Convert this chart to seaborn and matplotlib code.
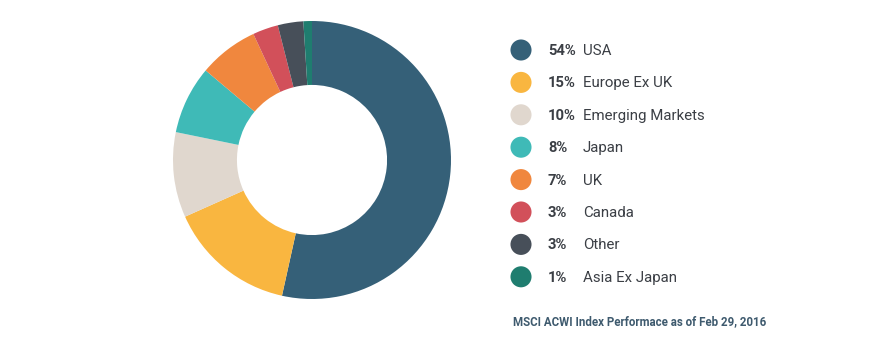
import matplotlib
matplotlib.use("Agg")
import matplotlib.pyplot as plt
import seaborn as sns

sns.set_style("white")
plt.rcParams["font.family"] = ["Roboto", "DejaVu Sans"]

regions = ["USA", "Europe Ex UK", "Emerging Markets", "Japan", "UK", "Canada", "Other", "Asia Ex Japan"]
shares = [54, 15, 10, 8, 7, 3, 3, 1]
colors = ["#356078", "#f9b640", "#e0d7ce", "#3fbab7", "#f0873e", "#d2505a", "#474f59", "#1f7d6f"]
caption = "MSCI ACWI Index Performace as of Feb 29, 2016"

W, H = 875, 342
fig = plt.figure(figsize=(W / 100, H / 100), dpi=100)

# donut
cx, cy, r = 312, 160, 139
ax = fig.add_axes([(cx - r) / W, (H - cy - r) / H, 2 * r / W, 2 * r / H])
ax.pie(shares, colors=colors, startangle=90, counterclock=False, radius=1,
       wedgeprops=dict(width=0.46, edgecolor="none"))
ax.set_xlim(-1, 1)
ax.set_ylim(-1, 1)
ax.set_aspect("equal")
ax.axis("off")

# legend panel in pixel coordinates
lg = fig.add_axes([0, 0, 1, 1], zorder=-1)
lg.set_xlim(0, W)
lg.set_ylim(H, 0)
lg.axis("off")
lg.patch.set_alpha(0)

y0, dy = 50, 32.4
for i, (name, val, col) in enumerate(zip(regions, shares, colors)):
    y = y0 + i * dy
    lg.scatter([521], [y], s=230, color=col, edgecolors="none")
    lg.text(548, y + 1, f"{val}%", fontsize=10.6, fontweight="bold", color="#3b3f45",
            va="center", ha="left")
    lg.text(583, y + 1, name, fontsize=10.8, color="#3b3f45", va="center", ha="left")

lg.text(513, 322, caption, fontsize=8.3, fontweight="bold", color="#3e5a6e",
        va="center", ha="left")

fig.savefig("out.png", dpi=100, facecolor="white")
